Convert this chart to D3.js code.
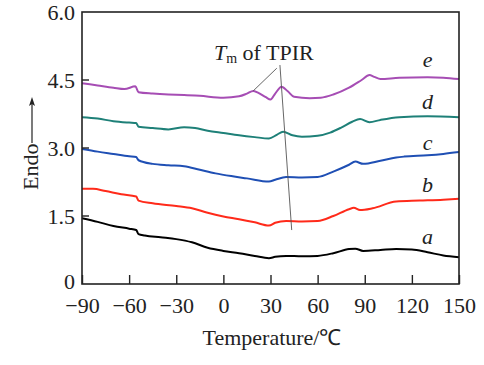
<!DOCTYPE html>
<html><head><meta charset="utf-8">
<script src="https://cdn.jsdelivr.net/npm/d3@7"></script>
<style>body{margin:0;background:#fff}svg{display:block}</style>
</head><body><svg id="c" width="484" height="365"></svg>
<script>
const xTicks = [-90,-60,-30,0,30,60,90,120,150];
const yTicks = [0,1.5,3.0,4.5,6.0];
const seriesNames = ["a","b","c","d","e"];
const seriesColors = ["#000000","#ff2a1a","#1f4fb4","#1e8078","#a64db4"];
const curveA = [[-90,1.45],[-80,1.37],[-70,1.28],[-60,1.22],[-55.5,1.19],[-54,1.10],[-50,1.07],[-40,1.03],[-30,0.99],[-20,0.92],[-10,0.80],[0,0.73],[10,0.68],[20,0.62],[29,0.57],[33,0.60],[40,0.62],[50,0.61],[60,0.62],[70,0.68],[80,0.77],[84,0.78],[89,0.73],[100,0.75],[110,0.77],[120,0.76],[130,0.70],[140,0.63],[150,0.59]];
const curveB = [[-90,2.10],[-83,2.10],[-75,2.05],[-65,1.98],[-55.5,1.93],[-54,1.84],[-45,1.78],[-30,1.72],[-20,1.67],[-10,1.57],[0,1.49],[10,1.43],[20,1.36],[29,1.29],[33,1.35],[40,1.39],[50,1.38],[60,1.39],[70,1.50],[80,1.65],[83,1.68],[87,1.63],[95,1.67],[110,1.82],[125,1.84],[140,1.86],[150,1.88]];
const curveC = [[-90,2.98],[-80,2.92],[-70,2.87],[-60,2.82],[-55.5,2.80],[-54,2.73],[-45,2.65],[-35,2.62],[-25,2.60],[-15,2.52],[-5,2.44],[5,2.38],[15,2.33],[29,2.26],[33,2.30],[40,2.36],[50,2.35],[60,2.36],[70,2.48],[80,2.63],[84,2.70],[89,2.65],[100,2.72],[110,2.79],[115,2.81],[130,2.84],[140,2.87],[150,2.91]];
const curveD = [[-90,3.68],[-80,3.65],[-70,3.59],[-60,3.56],[-55.5,3.55],[-54,3.47],[-45,3.44],[-35,3.41],[-25,3.46],[-18,3.44],[-10,3.38],[0,3.33],[10,3.28],[20,3.24],[29,3.21],[34,3.29],[38,3.36],[44,3.28],[50,3.25],[60,3.27],[68,3.34],[75,3.45],[82,3.58],[87,3.64],[93,3.57],[100,3.62],[112,3.68],[130,3.70],[150,3.68]];
const curveE = [[-90,4.43],[-80,4.38],[-70,4.33],[-63,4.30],[-56,4.36],[-54,4.23],[-45,4.20],[-35,4.18],[-25,4.17],[-15,4.15],[0,4.11],[10,4.14],[15,4.20],[19,4.26],[22,4.22],[27,4.12],[30,4.07],[33,4.20],[37,4.35],[41,4.25],[45,4.13],[55,4.10],[62,4.11],[70,4.18],[80,4.33],[88,4.50],[93,4.61],[96,4.57],[100,4.52],[112,4.55],[130,4.56],[140,4.55],[150,4.52]];
const labelPos = [[130,0.88],[130,2.03],[130,2.96],[130,3.85],[130,4.78]];
const annotText = {T:-6, v:4.94};
const annotLines = [[[34,4.76],[19,4.26]],[[36,4.83],[43.5,1.19]]];

const svg = d3.select("#c");
const x = d3.scaleLinear().domain([-90,150]).range([82,459]);
const y = d3.scaleLinear().domain([0,6]).range([284,12]);
const font = "Liberation Serif, Times New Roman, serif";

// curves
const line = d3.line().x(d=>x(d[0])).y(d=>y(d[1])).curve(d3.curveMonotoneX);
[curveA,curveB,curveC,curveD,curveE].forEach((c,i)=>{
  svg.append("path").attr("d",line(c)).attr("fill","none")
    .attr("stroke",seriesColors[i]).attr("stroke-width",2).attr("stroke-linejoin","round");
});

// frame
svg.append("rect").attr("x",82).attr("y",12).attr("width",377).attr("height",272)
  .attr("fill","none").attr("stroke","#222").attr("stroke-width",1.6);

// x axis
const xAxis = d3.axisBottom(x).tickValues(xTicks).tickSizeInner(-9).tickSizeOuter(0)
  .tickPadding(13).tickFormat(d=>d<0?"\u2212"+Math.abs(d):d);
const gx = svg.append("g").attr("transform","translate(0,284)").call(xAxis);
gx.select(".domain").remove();
gx.selectAll("line").attr("stroke","#222").attr("stroke-width",1.4);
gx.selectAll("text").attr("font-family",font).attr("font-size",22).attr("fill","#222");

// y axis
const yAxis = d3.axisLeft(y).tickValues(yTicks).tickSizeInner(0).tickSizeOuter(0)
  .tickPadding(7).tickFormat(d=>d===0?"0":d3.format(".1f")(d));
const gy = svg.append("g").attr("transform","translate(82,0)").call(yAxis);
gy.select(".domain").remove();
gy.selectAll("text").attr("font-family",font).attr("font-size",22).attr("fill","#222");
gy.selectAll(".tick").filter(d=>d===0).select("text").attr("y",-3);
svg.append("g").selectAll("line").data([1.5,3.0,4.5]).join("line")
  .attr("x1",82).attr("x2",89).attr("y1",d=>y(d)).attr("y2",d=>y(d))
  .attr("stroke","#222").attr("stroke-width",1.4);

// x label
svg.append("text").attr("x",272).attr("y",345).attr("text-anchor","middle")
  .attr("font-family",font).attr("font-size",22).attr("fill","#222").text("Temperature/\u2103");

// y label
svg.append("text").attr("transform","translate(38,190) rotate(-90)")
  .attr("font-family",font).attr("font-size",22).attr("fill","#222").text("Endo");
svg.append("line").attr("x1",32).attr("x2",32).attr("y1",143).attr("y2",102)
  .attr("stroke","#222").attr("stroke-width",1.2);
svg.append("path").attr("d","M32,97 L29,106 L32,104 L35,106 Z").attr("fill","#222");

// series labels
seriesNames.forEach((n,i)=>{
  svg.append("text").attr("x",x(labelPos[i][0])).attr("y",y(labelPos[i][1]))
    .attr("text-anchor","middle").attr("font-family",font).attr("font-style","italic")
    .attr("font-size",22).attr("fill","#222").text(n);
});

// annotation
const at = svg.append("text").attr("x",x(annotText.T)).attr("y",y(annotText.v))
  .attr("font-family",font).attr("font-size",22).attr("fill","#222");
at.append("tspan").attr("font-style","italic").text("T");
at.append("tspan").attr("font-size",14).attr("dy",3).text("m");
at.append("tspan").attr("dy",-3).text(" of TPIR");
annotLines.forEach(l=>{
  svg.append("line").attr("x1",x(l[0][0])).attr("y1",y(l[0][1]))
    .attr("x2",x(l[1][0])).attr("y2",y(l[1][1])).attr("stroke","#555").attr("stroke-width",0.9);
});
</script></body></html>
